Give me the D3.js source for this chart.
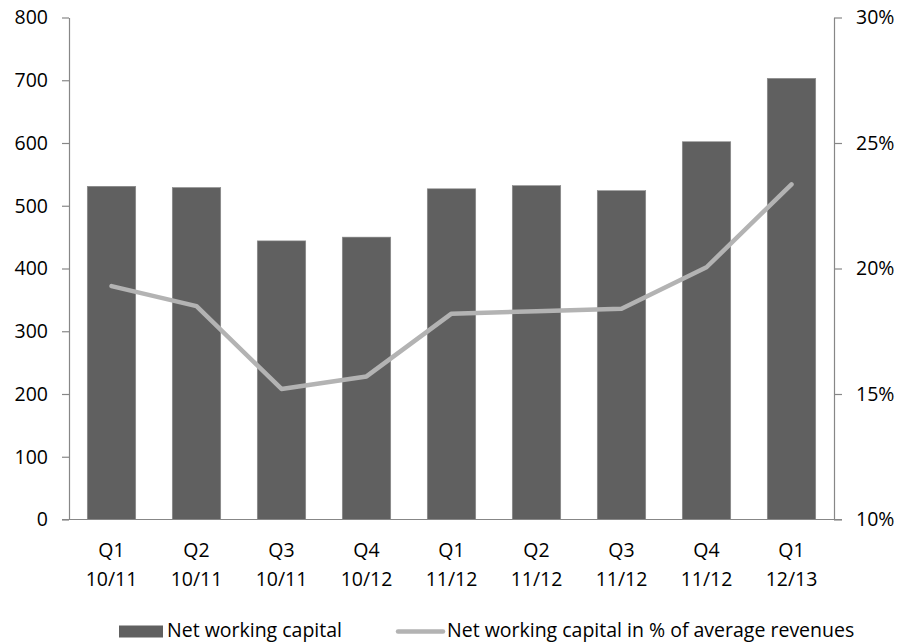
<!DOCTYPE html>
<html>
<head>
<meta charset="utf-8">
<script src="https://cdn.jsdelivr.net/npm/d3@7"></script>
<style>
  html, body { margin: 0; padding: 0; background: #fff; }
  svg text { font-family: "Open Sans", "Noto Sans", sans-serif; fill: #000; }
</style>
</head>
<body>
<svg id="chart" width="897" height="643"></svg>
<script>
// Quarter labels (two lines each)
const quarters = ["Q1", "Q2", "Q3", "Q4", "Q1", "Q2", "Q3", "Q4", "Q1"];
const years = ["10/11", "10/11", "10/11", "10/12", "11/12", "11/12", "11/12", "11/12", "12/13"];
// Net working capital (left axis)
const netWorkingCapital = [531, 529, 444, 450, 527, 532, 524, 602, 703];
// Net working capital in % of average revenues (right axis)
const nwcPercent = [19.3, 18.5, 15.2, 15.7, 18.2, 18.3, 18.4, 20.05, 23.35];
const leftTicks = [0, 100, 200, 300, 400, 500, 600, 700, 800];
const rightTicks = [10, 15, 20, 25, 30];
const legendLabels = ["Net working capital", "Net working capital in % of average revenues"];

const svg = d3.select("#chart");
const m = { left: 69, right: 834, top: 17.5, bottom: 519.5 };
const axisColor = "#878787";
const barColor = "#606060";
const lineColor = "#b3b3b3";
const fontSize = 19.5;

const keys = d3.range(quarters.length);
const x = d3.scaleBand().domain(keys).range([m.left, m.right]).paddingInner(0.43).paddingOuter(0.215);
const xc = d3.scaleBand().domain(keys).range([m.left, m.right]);
const yL = d3.scaleLinear().domain([0, 800]).range([m.bottom, m.top]);
const yR = d3.scaleLinear().domain([10, 30]).range([m.bottom, m.top]);

// Bars
svg.append("g").selectAll("rect").data(netWorkingCapital).join("rect")
  .attr("x", (d, i) => x(i))
  .attr("width", x.bandwidth())
  .attr("y", d => yL(d))
  .attr("height", d => yL(0) - yL(d))
  .attr("fill", barColor)
  .attr("stroke", "#8c8c8c")
  .attr("stroke-width", 0.6);

// Left axis
const gL = svg.append("g").attr("transform", `translate(${m.left},0)`)
  .call(d3.axisLeft(yL).tickValues(leftTicks).tickSize(7).tickPadding(14).tickSizeOuter(0));
gL.select(".domain").attr("stroke", axisColor).attr("stroke-width", 1.2);
gL.selectAll(".tick line").attr("stroke", axisColor).attr("stroke-width", 1.2);
gL.selectAll(".tick text").attr("font-size", fontSize).attr("font-family", null).attr("fill", "#000");

// Right axis
const gR = svg.append("g").attr("transform", `translate(${m.right},0)`)
  .call(d3.axisRight(yR).tickValues(rightTicks).tickFormat(d => d + "%").tickSize(8).tickPadding(14).tickSizeOuter(0));
gR.select(".domain").attr("stroke", axisColor).attr("stroke-width", 1.2);
gR.selectAll(".tick line").attr("stroke", axisColor).attr("stroke-width", 1.2);
gR.selectAll(".tick text").attr("font-size", fontSize).attr("font-family", null).attr("fill", "#000");

// Category baseline
svg.append("line")
  .attr("x1", m.left - 7).attr("x2", m.right + 8)
  .attr("y1", yL(0)).attr("y2", yL(0))
  .attr("stroke", axisColor).attr("stroke-width", 1.2);

// Category labels
const cat = svg.append("g").selectAll("text").data(keys).join("text")
  .attr("text-anchor", "middle")
  .attr("font-size", fontSize)
  .attr("x", i => xc(i) + xc.bandwidth() / 2);
cat.append("tspan").attr("y", 557).text(i => quarters[i]);
cat.append("tspan").attr("y", 586).attr("x", i => xc(i) + xc.bandwidth() / 2).text(i => years[i]);

// Percentage line
const line = d3.line()
  .x((d, i) => xc(i) + xc.bandwidth() / 2)
  .y(d => yR(d));
svg.append("path").datum(nwcPercent)
  .attr("d", line)
  .attr("fill", "none")
  .attr("stroke", lineColor)
  .attr("stroke-width", 4.5)
  .attr("stroke-linecap", "round")
  .attr("stroke-linejoin", "round");

// Legend
const lg = svg.append("g");
lg.append("rect").attr("x", 119).attr("y", 625.5).attr("width", 44).attr("height", 12).attr("fill", barColor);
lg.append("text").attr("x", 167).attr("y", 637).attr("font-size", fontSize).text(legendLabels[0]);
lg.append("line").attr("x1", 398).attr("x2", 443).attr("y1", 631.5).attr("y2", 631.5)
  .attr("stroke", lineColor).attr("stroke-width", 4.5).attr("stroke-linecap", "round");
lg.append("text").attr("x", 447).attr("y", 637).attr("font-size", fontSize).text(legendLabels[1]);
</script>
</body>
</html>
